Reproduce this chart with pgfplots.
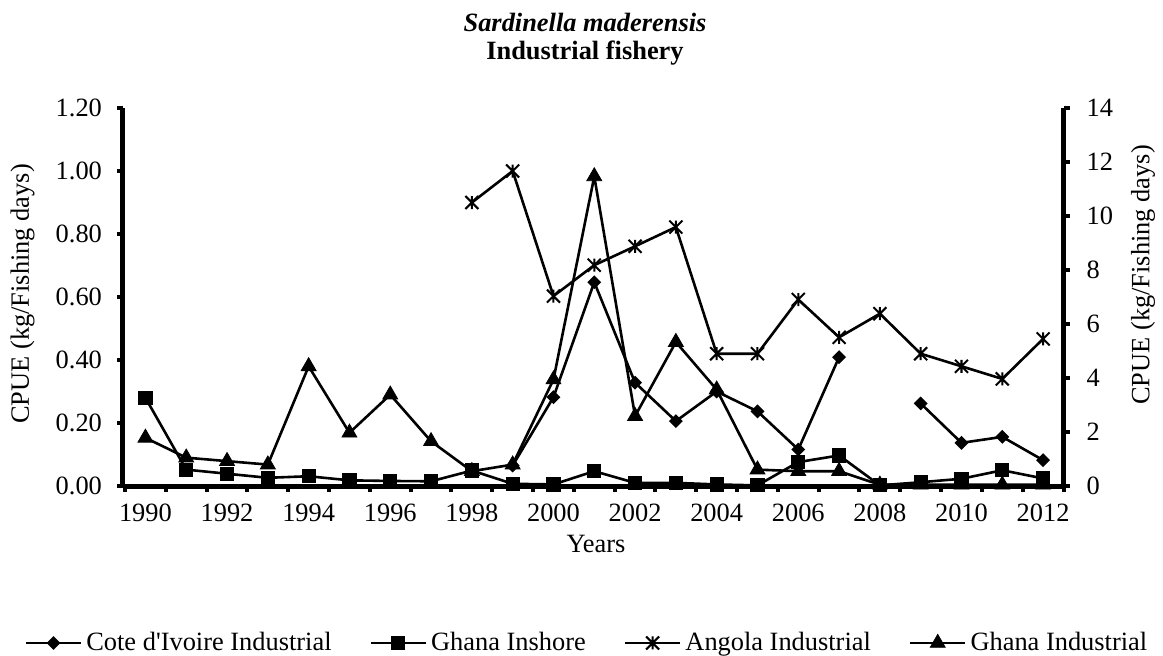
\documentclass[border=0pt]{standalone}
\usepackage{fontspec}
\setmainfont{Liberation Serif}[Ligatures=TeXReset]
\usepackage{pgfplots}
\pgfplotsset{compat=1.18}
\pgfdeclareplotmark{xstar}{%
  \pgfpathmoveto{\pgfqpoint{0pt}{\pgfplotmarksize}}%
  \pgfpathlineto{\pgfqpoint{0pt}{-\pgfplotmarksize}}%
  \pgfpathmoveto{\pgfqpoint{-\pgfplotmarksize}{-\pgfplotmarksize}}%
  \pgfpathlineto{\pgfqpoint{\pgfplotmarksize}{\pgfplotmarksize}}%
  \pgfpathmoveto{\pgfqpoint{-\pgfplotmarksize}{\pgfplotmarksize}}%
  \pgfpathlineto{\pgfqpoint{\pgfplotmarksize}{-\pgfplotmarksize}}%
  \pgfusepathqstroke}
\newcommand\f{\fontsize{13.2}{15.8}\selectfont}
\begin{document}
\begin{tikzpicture}[font=\f]
\path[use as bounding box] (-61.5pt,-84.5pt) rectangle (520pt,243pt);
\begin{axis}[name=main, at={(0,0)}, anchor=south west, scale only axis,
  width=470.25pt, height=189pt,
  xmin=1989.45, xmax=2012.5, ymin=0, ymax=1.2,
  axis x line*=bottom, axis y line*=left,
  axis line style={line width=2.5pt, -},
  tick align=outside, major tick length=3pt,
  tick style={line width=2pt, black},
  xtick={1989.5,1990.5,1991.5,1992.5,1993.5,1994.5,1995.5,1996.5,1997.5,1998.5,1999.5,2000.5,2001.5,2002.5,2003.5,2004.5,2005.5,2006.5,2007.5,2008.5,2009.5,2010.5,2011.5,2012.5},
  xticklabels={},
  extra x ticks={1990,1992,1994,1996,1998,2000,2002,2004,2006,2008,2010,2012},
  extra x tick labels={1990,1992,1994,1996,1998,2000,2002,2004,2006,2008,2010,2012},
  extra x tick style={major tick length=0pt},
  xticklabel style={yshift=-5.5pt},
  ytick={0,0.2,0.4,0.6,0.8,1.0,1.2},
  yticklabel style={xshift=-4pt, /pgf/number format/.cd, fixed, fixed zerofill, precision=2},
  /pgf/number format/assume math mode=true,
  tick label style={font=\f},
  clip=false, unbounded coords=jump,
  legend style={at={(0.4944,-0.4153)}, anchor=center, draw=none, fill=none,
    font=\f, legend columns=4,
    /tikz/every even column/.append style={column sep=17pt}},
  legend cell align=left,
  legend image code/.code={\draw[mark repeat=2,mark phase=2] plot coordinates {(0pt,0pt)(13.75pt,0pt)(27.5pt,0pt)};},
]
% Cote d'Ivoire Industrial
\addplot[black, line width=1.3pt, mark=square*, mark size=1.8pt, mark options={solid, rotate=45}] coordinates {
(1999,0.065)(2000,0.282)(2001,0.647)(2002,0.328)(2003,0.206)(2004,0.300)(2005,0.237)(2006,0.116)(2007,0.409)(2008,nan)(2009,0.262)(2010,0.137)(2011,0.156)(2012,0.082)};
\addlegendentry{Cote d'Ivoire Industrial}
% Ghana Inshore
\addplot[black, line width=1.3pt, mark=square*, mark size=3.3pt, mark options={solid, line width=0.5pt}] coordinates {
(1990,0.280)(1991,0.052)(1992,0.039)(1993,0.026)(1994,0.031)(1995,0.018)(1996,0.016)(1997,0.015)(1998,0.049)(1999,0.007)(2000,0.005)(2001,0.047)(2002,0.010)(2003,0.010)(2004,0.005)(2005,0.002)(2006,0.076)(2007,0.097)(2008,0.002)(2009,0.012)(2010,0.023)(2011,0.050)(2012,0.024)};
\addlegendentry{Ghana Inshore}
% Angola Industrial
\addplot[black, line width=1.3pt, mark=xstar, mark size=3.25pt, mark options={solid, line width=1pt}] coordinates {
(1998,0.900)(1999,1.000)(2000,0.603)(2001,0.701)(2002,0.761)(2003,0.822)(2004,0.420)(2005,0.420)(2006,0.592)(2007,0.472)(2008,0.547)(2009,0.420)(2010,0.380)(2011,0.340)(2012,0.467)};
\addlegendentry{Angola Industrial}
% Ghana Industrial
\addplot[black, line width=1.3pt, mark=triangle*, mark size=4.3pt, mark options={solid, line width=0.4pt}] coordinates {
(1990,0.153)(1991,0.090)(1992,0.079)(1993,0.068)(1994,0.380)(1995,0.169)(1996,0.290)(1997,0.142)(1998,0.047)(1999,0.068)(2000,0.338)(2001,0.983)(2002,0.222)(2003,0.457)(2004,0.306)(2005,0.052)(2006,0.047)(2007,0.047)(2008,0.004)(2009,0.004)(2010,0.004)(2011,0.004)(2012,0.004)};
\addlegendentry{Ghana Industrial}
\end{axis}
\begin{axis}[at={(0,0)}, anchor=south west, scale only axis,
  width=470.25pt, height=189pt,
  xmin=1989.45, xmax=2012.5, ymin=0, ymax=14,
  axis x line=none, axis y line*=right,
  axis line style={line width=2.5pt, -},
  tick align=outside, major tick length=3pt,
  tick style={line width=2pt, black},
  ytick={0,2,4,6,8,10,12,14},
  yticklabel style={xshift=5pt},
  /pgf/number format/assume math mode=true,
  tick label style={font=\f},
]
\addplot[draw=none] coordinates {(2000,0)};
\end{axis}
\node[rotate=90] at (-50.25pt,96pt) {CPUE (kg/Fishing days)};
\node[rotate=90] at (510pt,105.5pt) {CPUE (kg/Fishing days)};
\node[anchor=base] at (236.5pt,-33pt) {Years};
\node[anchor=base, font=\f\bfseries\itshape] at (231pt,227.15pt) {Sardinella maderensis};
\node[anchor=base, font=\f\bfseries] at (231pt,213.3pt) {Industrial fishery};
\end{tikzpicture}
\end{document}
